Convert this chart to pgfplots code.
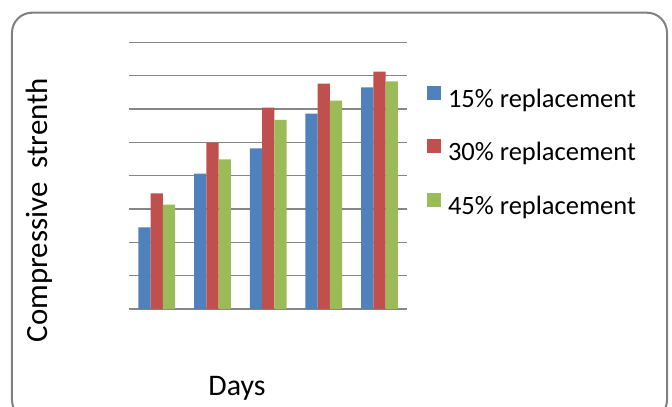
\documentclass[border=0pt]{standalone}
\usepackage{fontspec}
\setmainfont{Carlito}
\usepackage{pgfplots}
\pgfplotsset{compat=1.18}
\definecolor{cBlue}{RGB}{79,129,189}
\definecolor{cRed}{RGB}{192,80,77}
\definecolor{cGreen}{RGB}{155,187,89}
\definecolor{cGrid}{RGB}{134,134,134}
\definecolor{cFrame}{RGB}{128,128,128}
\begin{document}
\begin{tikzpicture}
\begin{axis}[
  at={(0,0)}, anchor=south west,
  scale only axis,
  width=278.3bp, height=266.7bp,
  xmin=-0.5, xmax=4.5, ymin=0, ymax=8,
  ytick={0,1,...,8}, yticklabels={},
  xtick=\empty,
  major tick length=0pt,
  ymajorgrids,
  grid style={draw=cGrid, line width=1.3bp},
  axis line style={draw=none},
  clip=false,
  ylabel={Compressive\ \ strenth},
  xlabel={Days},
  ylabel style={at={(axis description cs:-0.322,0.371)}, anchor=center, rotate=0, font=\fontsize{31}{34}\selectfont},
  xlabel style={at={(axis description cs:0.388,-0.296)}, anchor=center, font=\fontsize{30}{33}\selectfont},
  legend style={draw=none, fill=none, inner sep=0pt, outer sep=0pt,
    at={(axis description cs:1.071,0.585)}, anchor=west,
    row sep=26bp, column sep=7bp,
    font=\fontsize{26.6}{30}\selectfont,
    nodes={inner sep=0pt, text height=19bp, text depth=6bp}},
  legend cell align=left,
]
\addplot[ybar, bar width=0.22, bar shift=-0.22, fill=cBlue, draw=none,
  legend image code/.code={\fill[cBlue] (0bp,1bp) rectangle (14bp,15bp);}]
  coordinates {(0,2.45) (1,4.06) (2,4.82) (3,5.86) (4,6.65)};
\addplot[ybar, bar width=0.22, bar shift=0, fill=cRed, draw=none,
  legend image code/.code={\fill[cRed] (0bp,1bp) rectangle (14bp,15bp);}]
  coordinates {(0,3.47) (1,4.99) (2,6.04) (3,6.76) (4,7.12)};
\addplot[ybar, bar width=0.22, bar shift=0.22, fill=cGreen, draw=none,
  legend image code/.code={\fill[cGreen] (0bp,1bp) rectangle (14bp,15bp);}]
  coordinates {(0,3.13) (1,4.49) (2,5.67) (3,6.25) (4,6.83)};
\legend{15\% replacement, 30\% replacement, 45\% replacement}
\end{axis}
\draw[cFrame, line width=2bp, rounded corners=20bp] (-117bp,-111bp) rectangle (538bp,296.3bp);
\pgfresetboundingbox
\useasboundingbox (-129bp,-98bp) rectangle (543bp,309bp);
\end{tikzpicture}
\end{document}
